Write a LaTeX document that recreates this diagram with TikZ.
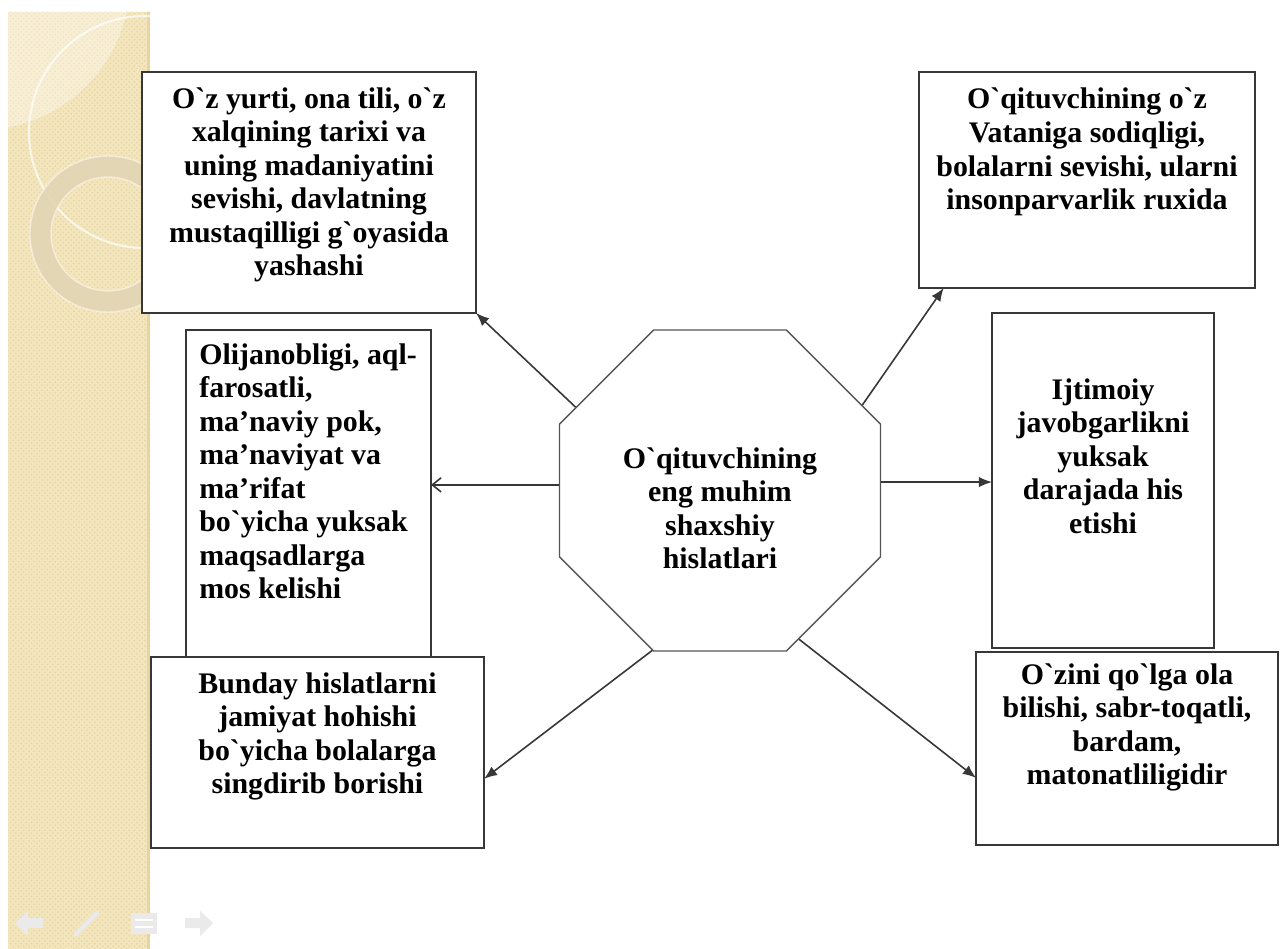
\documentclass[tikz, border = 0pt]{standalone}
\usepackage{fontspec}
\setmainfont{Liberation Serif}[Ligatures = TeXOff]
\usetikzlibrary{positioning}
\usetikzlibrary{fit}
\usetikzlibrary{shapes.geometric}
\usetikzlibrary{arrows.meta}
\usetikzlibrary{patterns}

\definecolor{strip}{RGB}{243, 229, 188}
\definecolor{stripdot}{RGB}{230, 212, 165}
\definecolor{ringcol}{RGB}{226, 213, 180}
\definecolor{frame}{RGB}{55, 55, 55}
\definecolor{navgray}{RGB}{234, 234, 234}

\begin{document}
\begin{tikzpicture}[x = 0.02cm, y = -0.02cm,
  box/.style = {draw = frame, line width = 1.1pt, fill = white, inner sep = 0,
    outer sep = 0},
  txt/.style = {font = \fontsize{17}{19.1}\selectfont\bfseries, inner sep = 0,
    align = center},
  arr/.style = {draw = frame, line width = 0.9pt,
    -{Latex[length = 7.5pt, width = 6pt]}}]
  \useasboundingbox (0, 0) rectangle (1280, 949);
  \fill[white] (0, 0) rectangle (1280, 949);

  \fill[strip] (8, 12) rectangle (150, 949);
  \fill[pattern = crosshatch dots, pattern color = stripdot] (8, 12)
  rectangle (150, 949);
  \fill[stripdot] (147, 12) rectangle (150, 949);
  \begin{scope}
    \clip (8, 12) rectangle (150, 949);
    \fill[white, opacity = 0.35] (-20, -20) circle[radius = 150];
    \draw[white, opacity = 0.7, line width = 1.2pt] (145, 132)
    circle[radius = 116];
    \fill[ringcol, opacity = 0.9, even odd rule] (108, 234)
    circle[radius = 78] (108, 234) circle[radius = 57];
    \draw[white, opacity = 0.5, line width = 0.8pt] (108, 234)
    circle[radius = 78] (108, 234) circle[radius = 57];
  \end{scope}

  \fill[navgray] (15, 923) -- (28, 911) -- (28, 918) -- (43, 918) -- (43, 928)
  -- (28, 928) -- (28, 936) -- cycle;
  \draw[navgray, line width = 2.5pt, line cap = round] (76, 934) -- (97, 913);
  \fill[navgray] (131, 913) rectangle (157, 934);
  \draw[white, line width = 1pt] (135, 920) -- (153, 920) (135, 927)
  -- (153, 927);
  \fill[navgray] (213, 923) -- (200, 911) -- (200, 918) -- (185, 918)
  -- (185, 928) -- (200, 928) -- (200, 936) -- cycle;

  \node[box, fit = {(186, 330) (431, 700)}] (olij) {};
  \node[box, fit = {(142, 72) (476, 313)}] (yurt) {};
  \node[box, fit = {(919, 72) (1255, 288)}] (vatan) {};
  \node[box, fit = {(992, 313) (1214, 648)}] (ijt) {};
  \node[box, fit = {(151, 657) (484, 848)}] (bund) {};
  \node[box, fit = {(976, 652) (1278, 845)}] (ozini) {};
  \node[regular polygon, regular polygon sides = 8, draw = frame!85,
  line width = 0.8pt, minimum size = 6.95cm, inner sep = 0] (hub)
  at (720, 490.5) {};

  \node[txt, below = 8.5pt of yurt.north] (yurttxt) {O`z yurti, ona tili,
    o`z\\xalqining tarixi va\\uning madaniyatini\\sevishi,
    davlatning\\mustaqilligi g`oyasida\\yashashi};
  \node[txt, below = 9pt of vatan.north] (vatantxt) {O`qituvchining
    o`z\\Vataniga sodiqligi,\\bolalarni sevishi, ularni\\insonparvarlik
    ruxida};
  \node[txt, align = left, below right = 7.4pt and 7.4pt of olij.north west]
  (olijtxt) {Olijanobligi, aql-\\farosatli,\\ma’naviy pok,\\ma’naviyat
    va\\ma’rifat\\bo`yicha yuksak\\maqsadlarga\\mos kelishi};
  \node[txt, below = 37pt of ijt.north] (ijttxt) {Ijtimoiy\\javobgarlikni\\
    yuksak\\darajada his\\etishi};
  \node[txt, below = 8.5pt of bund.north] (bundtxt) {Bunday
    hislatlarni\\jamiyat hohishi\\bo`yicha bolalarga\\singdirib borishi};
  \node[txt, below = 6.3pt of ozini.north] (ozinitxt) {O`zini qo`lga
    ola\\bilishi, sabr-toqatli,\\bardam,\\matonatliligidir};
  \node[txt, anchor = north] (hubtxt) at ([yshift = 24.8pt] hub.center)
  {O`qituvchining\\eng muhim\\shaxshiy\\hislatlari};

  \draw[arr] (hub.150) -- (yurt.south east);
  \draw[arr] (hub.31) -- (vatan.217);
  \draw[arr] (hub.3) -- (hub.3 -| ijt.west);
  \draw[draw = frame, line width = 0.9pt,
  -{Straight Barb[length = 5pt, width = 8pt]}] (hub.178)
  -- (hub.178 -| olij.east);
  \draw[arr] (hub.247) -- (bund.351);
  \draw[arr] (hub.298) -- (ozini.191);
\end{tikzpicture}
\end{document}
